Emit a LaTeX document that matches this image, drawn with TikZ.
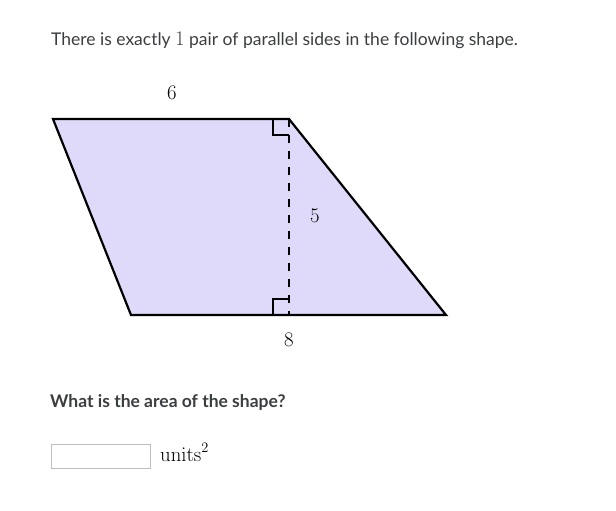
\documentclass[tikz,border=0pt]{standalone}
\usepackage[no-math]{fontspec}
\setmainfont{Lato}
\definecolor{txt}{RGB}{59,62,64}
\definecolor{shapefill}{RGB}{224,218,250}
\definecolor{boxgray}{RGB}{190,190,190}
\tikzset{
  edge/.style={line width=2.2pt, line join=miter},
  heightline/.style={line width=2pt, dash pattern=on 8pt off 8pt},
  anglemark/.style={line width=1.6pt},
  lbl/.style={font=\fontsize{21}{25}\selectfont, text=black, inner sep=0pt},
  para/.style={font=\fontsize{17.5}{21}\selectfont, text=txt, inner sep=0pt, anchor=base west}
}
\begin{document}
\begin{tikzpicture}[x=1pt,y=-1pt]
\useasboundingbox (0,0) rectangle (616,511);
\node[para] (intro) at (51,46) {There is exactly {\fontsize{20}{21}\selectfont$1$} pair of parallel sides in the following shape.};
\coordinate (A) at (53,119);
\coordinate (B) at (289,119);
\coordinate (C) at (446,315);
\coordinate (D) at (131,315);
\coordinate (F) at (289,315);
\fill[shapefill] (A) -- (B) -- (C) -- (D) -- cycle;
\draw[heightline] (B) -- (F);
\draw[anglemark] (273,119) -- (273,135) -- (289,135);
\draw[anglemark] (273,315) -- (273,299) -- (289,299);
\draw[edge] (A) -- (B) -- (C) -- (D) -- cycle;
\node[lbl] (six) at (172,93) {$6$};
\node[lbl] (five) at (315,216) {$5$};
\node[lbl] (eight) at (289,340) {$8$};
\node[para, font=\fontsize{17.5}{21}\selectfont\bfseries] (q) at (50,407) {What is the area of the shape?};
\node[draw=boxgray, line width=0.8pt, minimum width=99pt, minimum height=24pt, anchor=north west, inner sep=0pt] (box) at (50.5,443.5) {};
\node[lbl, anchor=base west] (units) at (160,461) {$\mathrm{units}^2$};
\end{tikzpicture}
\end{document}
